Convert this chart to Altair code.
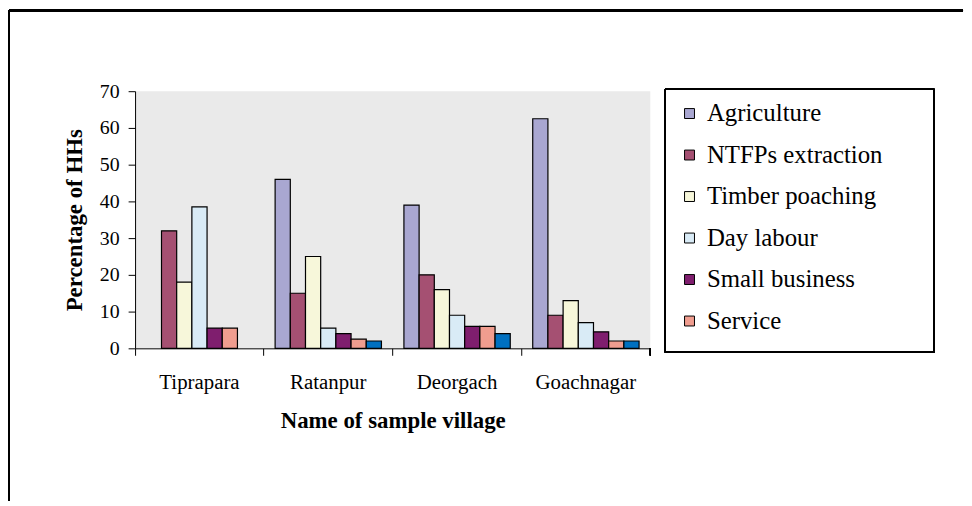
import altair as alt
import pandas as pd

villages = ["Tiprapara", "Ratanpur", "Deorgach", "Goachnagar"]
series = ["Agriculture", "NTFPs extraction", "Timber poaching", "Day labour",
          "Small business", "Service", "Others"]
colors = ["#A9A7D1", "#A55072", "#F7F7DA", "#D9EBF6", "#7F1E6E", "#F09D8F", "#0070C0"]

agriculture = [0, 46, 39, 62.5]
ntfps = [32, 15, 20, 9]
timber = [18, 25, 16, 13]
day_labour = [38.5, 5.5, 9, 7]
small_business = [5.5, 4, 6, 4.5]
service = [5.5, 2.5, 6, 2]
others = [0, 2, 4, 2]

values = [agriculture, ntfps, timber, day_labour, small_business, service, others]
rows = []
for s, vals in zip(series, values):
    for v, val in zip(villages, vals):
        rows.append({"village": v, "source": s, "value": val})
df = pd.DataFrame(rows)

FONT = "Liberation Serif"
W, H = 519, 259

bars = alt.Chart(df).transform_filter("datum.value > 0").mark_bar(
    stroke="black", strokeWidth=1.2
).encode(
    x=alt.X("village:N", sort=villages, title="Name of sample village",
            scale=alt.Scale(paddingInner=0, paddingOuter=0),
            axis=alt.Axis(labelAngle=0, bandPosition=0, tickSize=7, labelPadding=16,
                          titlePadding=18, labelFontSize=21, titleFontSize=23,
                          labelFont=FONT, titleFont=FONT, titleFontWeight="bold",
                          domainColor="black", tickColor="black", labelColor="black",
                          titleColor="black")),
    xOffset=alt.XOffset("source:N", sort=series,
                        scale=alt.Scale(paddingInner=0, paddingOuter=0.74)),
    y=alt.Y("value:Q", title="Percentage of HHs",
            scale=alt.Scale(domain=[0, 70], nice=False),
            axis=alt.Axis(values=[0, 10, 20, 30, 40, 50, 60, 70], grid=False,
                          tickSize=7, labelPadding=9, titlePadding=13,
                          labelFontSize=20, titleFontSize=23, labelFont=FONT,
                          titleFont=FONT, titleFontWeight="bold",
                          domainColor="black", tickColor="black", labelColor="black",
                          titleColor="black")),
    color=alt.Color("source:N", sort=series,
                    scale=alt.Scale(domain=series, range=colors),
                    legend=alt.Legend(values=series[:6], title=None, orient="none",
                                      legendX=546, legendY=10, padding=0,
                                      symbolType="square", symbolSize=100,
                                      symbolStrokeColor="black", symbolStrokeWidth=1,
                                      labelFont=FONT, labelFontSize=25,
                                      labelColor="black", labelOffset=5,
                                      rowPadding=15.8, labelLimit=300)),
)

end_tick = alt.Chart(df).mark_rule(color="black").encode(
    x=alt.value(W), y=alt.value(H), y2=alt.value(H + 7))

legend_box = alt.Chart(df).mark_rect(fillOpacity=0, stroke="black", strokeWidth=1).encode(
    x=alt.value(534), x2=alt.value(805), y=alt.value(-2), y2=alt.value(263))

frame_top = alt.Chart(df).mark_rule(color="black", strokeWidth=2).encode(
    x=alt.value(-127), x2=alt.value(834), y=alt.value(-81))
frame_left = alt.Chart(df).mark_rule(color="black", strokeWidth=2).encode(
    x=alt.value(-127), y=alt.value(-81), y2=alt.value(412))

chart = alt.layer(bars, end_tick, legend_box, frame_top, frame_left).properties(
    width=W, height=H, padding=0
).configure_view(fill="#EAEAEA", stroke=None).configure_legend(labelFont=FONT)

chart.save("out.html", embed_options={"renderer": "svg", "actions": False})
